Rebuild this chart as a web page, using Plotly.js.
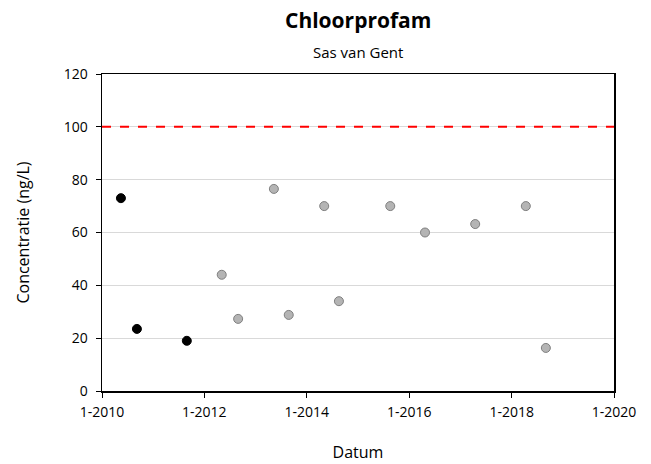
<!DOCTYPE html>
<html><head><meta charset="utf-8">
<script src="https://cdn.plot.ly/plotly-3.0.1.min.js"></script>
<style>html,body{margin:0;padding:0;background:#fff}#c{width:651px;height:464px}</style>
</head><body><div id="c"></div>
<script>
const blackDates = ["2010-05-16","2010-09-07","2011-08-29"];
const blackValues = [73.0, 23.5, 19.0];
const grayDates = ["2012-05-04","2012-08-29","2013-05-11","2013-08-25","2014-05-05","2014-08-18","2015-08-19","2016-04-23","2017-04-16","2018-04-12","2018-09-02"];
const grayValues = [44.0, 27.3, 76.5, 28.8, 70.0, 34.0, 70.0, 60.0, 63.2, 70.0, 16.3];
const normValue = 100;
const titleText = "Chloorprofam";
const subtitleText = "Sas van Gent";
const xTitle = "Datum";
const yTitle = "Concentratie (ng/L)";

const font = "Open Sans, Noto Sans, sans-serif";
const traces = [
  {x: blackDates, y: blackValues, type: "scatter", mode: "markers",
   marker: {color: "#000000", size: 9, line: {color: "#000000", width: 1}}, showlegend: false},
  {x: grayDates, y: grayValues, type: "scatter", mode: "markers",
   marker: {color: "#b4b4b4", size: 9, line: {color: "#7f7f7f", width: 1}}, showlegend: false}
];
const layout = {
  width: 651, height: 464,
  margin: {l: 102, r: 37, t: 74, b: 73},
  paper_bgcolor: "#fff", plot_bgcolor: "#fff",
  font: {family: font, size: 14, color: "#000"},
  xaxis: {type: "date", range: ["2010-01-01","2020-01-01"], tick0: "2010-01-01", dtick: "M24",
    tickformat: "%-m-%Y", ticks: "outside", ticklen: 5, tickcolor: "#000", ticklabelstandoff: 3,
    tickfont: {size: 14},
    showline: true, linecolor: "#000", linewidth: 1.5, mirror: true, showgrid: false, zeroline: false,
    title: {text: xTitle, font: {size: 16}, standoff: 26}},
  yaxis: {range: [0, 120], dtick: 20, ticks: "outside", ticklen: 5, tickcolor: "#000", ticklabelstandoff: 5,
    tickfont: {size: 14},
    showline: true, linecolor: "#000", linewidth: 1.5, mirror: true,
    showgrid: true, gridcolor: "#d9d9d9", gridwidth: 1, zeroline: false,
    title: {text: yTitle, font: {size: 16}, standoff: 30}},
  shapes: [{type: "line", xref: "paper", x0: 0, x1: 1, yref: "y", y0: normValue, y1: normValue,
    line: {color: "#ff0000", width: 2, dash: "dash"}}],
  annotations: [
    {text: "<b>" + titleText + "</b>", xref: "paper", yref: "paper", x: 0.5, y: 1, yshift: 54,
     showarrow: false, font: {size: 21}, xanchor: "center", yanchor: "middle"},
    {text: subtitleText, xref: "paper", yref: "paper", x: 0.5, y: 1, yshift: 22,
     showarrow: false, font: {size: 15}, xanchor: "center", yanchor: "middle"}
  ]
};
Plotly.newPlot("c", traces, layout, {displayModeBar: false, staticPlot: true});
</script></body></html>
